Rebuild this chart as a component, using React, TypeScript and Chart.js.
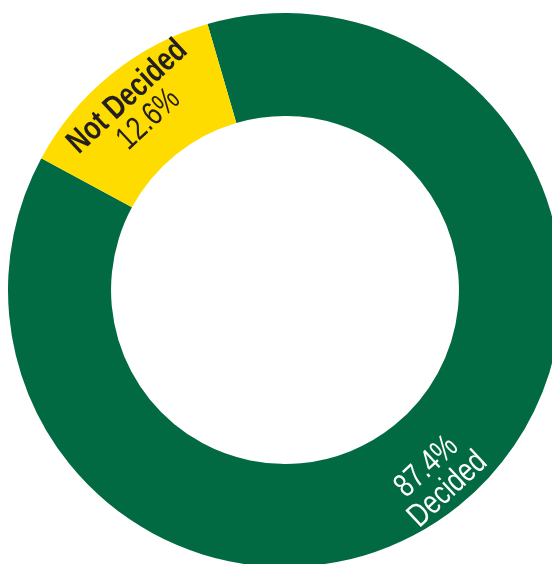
import React, { useEffect, useRef } from "react";
import { Chart, registerables } from "chart.js";

Chart.register(...registerables);

const categories = ["Decided", "Not Decided"];
const values = [87.4, 12.6];
const valueLabels = ["87.4%", "12.6%"];

const colors = ["#026A42", "#FFDC00"];
const textColors = ["#FFFFFF", "#231F20"];

const labelPlugin = {
  id: "arcLabels",
  afterDatasetsDraw(chart: any) {
    const ctx = chart.ctx;
    const meta = chart.getDatasetMeta(0);
    meta.data.forEach((arc: any, i: number) => {
      const { x, y, startAngle, endAngle, innerRadius, outerRadius } = arc.getProps(
        ["x", "y", "startAngle", "endAngle", "innerRadius", "outerRadius"],
        true
      );
      const mid = (startAngle + endAngle) / 2;
      const frac = i === 0 ? 0.66 : 0.58;
      const r = innerRadius + (outerRadius - innerRadius) * frac;
      const cx = x + Math.cos(mid) * r;
      const cy = y + Math.sin(mid) * r;
      let rot = mid + Math.PI / 2;
      while (rot > Math.PI) rot -= 2 * Math.PI;
      while (rot < -Math.PI) rot += 2 * Math.PI;
      if (rot > Math.PI / 2) rot -= Math.PI;
      if (rot < -Math.PI / 2) rot += Math.PI;
      rot -= (4 * Math.PI) / 180;
      const lines =
        i === 0 ? [valueLabels[i], categories[i]] : [categories[i], valueLabels[i]];
      const weights = i === 0 ? ["normal", "normal"] : ["bold", "normal"];
      ctx.save();
      ctx.translate(cx, cy);
      ctx.rotate(rot);
      ctx.scale(0.78, 1);
      ctx.fillStyle = textColors[i];
      ctx.textAlign = "center";
      ctx.textBaseline = "middle";
      const lh = 31;
      lines.forEach((t, k) => {
        ctx.font = `${weights[k]} 33px 'Liberation Sans', Arial, sans-serif`;
        ctx.fillText(t, 0, (k - 0.5) * lh);
      });
      ctx.restore();
    });
  },
};

export default function App() {
  const ref = useRef<HTMLCanvasElement | null>(null);
  useEffect(() => {
    if (!ref.current) return;
    const chart = new Chart(ref.current, {
      type: "doughnut",
      data: {
        labels: categories,
        datasets: [
          {
            data: values,
            backgroundColor: colors,
            borderWidth: 0,
          },
        ],
      },
      options: {
        responsive: false,
        animation: false,
        rotation: -16.25,
        cutout: "62.8%",
        layout: { padding: 0 },
        plugins: {
          legend: { display: false },
          tooltip: { enabled: false },
        },
      },
      plugins: [labelPlugin],
    });
    return () => chart.destroy();
  }, []);
  return (
    <div style={{ width: 554, height: 564 }}>
      <canvas ref={ref} width={554} height={564} style={{ display: "block" }} />
    </div>
  );
}
